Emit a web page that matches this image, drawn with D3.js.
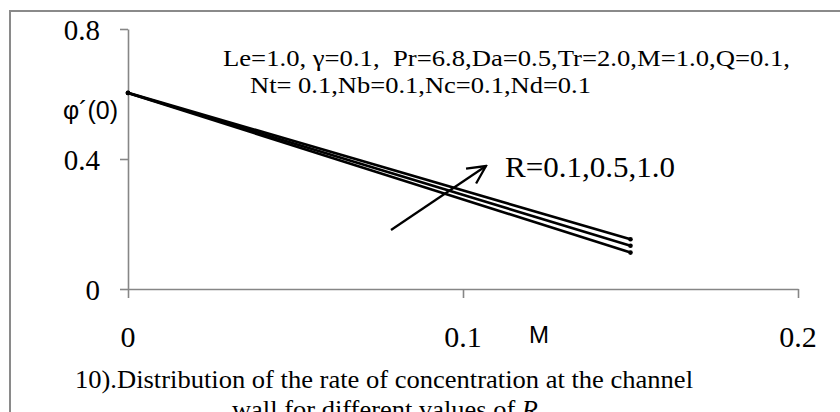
<!DOCTYPE html>
<html>
<head>
<meta charset="utf-8">
<script src="https://cdn.jsdelivr.net/npm/d3@7"></script>
<style>
  html, body { margin: 0; padding: 0; background: #fff; }
  svg { display: block; }
  .serif { font-family: "Liberation Serif", "Times New Roman", serif; fill: #000; }
  .sans { font-family: "Liberation Sans", Arial, sans-serif; fill: #000; }
</style>
</head>
<body>
<svg id="chart" width="840" height="412"></svg>
<script>
// Magnetic parameter M along the x axis
const mValues = [0, 0.15];

// Wall concentration gradient φ´(0) for each radiation parameter R
const seriesR01 = [0.603, 0.112];
const seriesR05 = [0.603, 0.133];
const seriesR10 = [0.604, 0.153];
const seriesNames = ["R=0.1", "R=0.5", "R=1.0"];

const xTicks = [0, 0.1, 0.2];
const xTickLabels = ["0", "0.1", "0.2"];
const yTicks = [0, 0.4, 0.8];
const yTickLabels = ["0", "0.4", "0.8"];

const svg = d3.select("#chart");

// outer frame of the figure
svg.append("rect")
  .attr("x", 10).attr("y", 11)
  .attr("width", 900).attr("height", 500)
  .attr("fill", "none")
  .attr("stroke", "#8a8a8a")
  .attr("stroke-width", 2);

const x = d3.scaleLinear().domain([0, 0.2]).range([128, 798]);
const y = d3.scaleLinear().domain([0, 0.8]).range([289, 29]);

const axisColor = "#868686";

// y axis
const gy = svg.append("g")
  .attr("transform", `translate(${x(0)},0)`)
  .call(d3.axisLeft(y).tickValues(yTicks).tickSize(8).tickSizeOuter(0).tickFormat(""));
gy.select(".domain").attr("stroke", axisColor).attr("stroke-width", 1.6);
gy.selectAll(".tick line").attr("stroke", axisColor).attr("stroke-width", 1.6);

// x axis
const gx = svg.append("g")
  .attr("transform", `translate(0,${y(0)})`)
  .call(d3.axisBottom(x).tickValues(xTicks).tickSize(9).tickSizeOuter(0).tickFormat(""));
gx.select(".domain").attr("stroke", axisColor).attr("stroke-width", 1.6);
gx.selectAll(".tick line").attr("stroke", axisColor).attr("stroke-width", 1.6);

// tick labels
svg.append("g").selectAll("text")
  .data(yTicks)
  .join("text")
  .attr("class", "serif")
  .attr("x", 100)
  .attr("y", d => y(d) + 11)
  .attr("text-anchor", "end")
  .attr("font-size", 29)
  .text((d, i) => yTickLabels[i]);

svg.append("g").selectAll("text")
  .data(xTicks)
  .join("text")
  .attr("class", "serif")
  .attr("x", d => x(d))
  .attr("y", 347)
  .attr("text-anchor", "middle")
  .attr("font-size", 30)
  .text((d, i) => xTickLabels[i]);

// axis titles
svg.append("text")
  .attr("class", "sans")
  .attr("x", 118).attr("y", 119)
  .attr("text-anchor", "end")
  .attr("font-size", 25)
  .text("φ´(0)");

svg.append("text")
  .attr("class", "sans")
  .attr("x", 539).attr("y", 343)
  .attr("text-anchor", "middle")
  .attr("font-size", 24)
  .text("M");

// series lines
const series = [seriesR01, seriesR05, seriesR10];
const line = d3.line()
  .x((d, i) => x(mValues[i]))
  .y(d => y(d));

const gLines = svg.append("g");
series.forEach((vals, k) => {
  gLines.append("path")
    .datum(vals)
    .attr("fill", "none")
    .attr("stroke", "#000")
    .attr("stroke-width", 2.6)
    .attr("d", line)
    .append("title").text(seriesNames[k]);
  gLines.selectAll(null)
    .data(vals)
    .join("circle")
    .attr("cx", (d, i) => x(mValues[i]))
    .attr("cy", d => y(d))
    .attr("r", 2.3)
    .attr("fill", "#000");
});

// parameter annotation
svg.append("text")
  .attr("class", "serif")
  .attr("x", 223).attr("y", 66)
  .attr("font-size", 24)
  .attr("textLength", 567)
  .attr("lengthAdjust", "spacingAndGlyphs")
  .style("white-space", "pre")
  .text("Le=1.0, γ=0.1,  Pr=6.8,Da=0.5,Tr=2.0,M=1.0,Q=0.1,");

svg.append("text")
  .attr("class", "serif")
  .attr("x", 250).attr("y", 93)
  .attr("font-size", 24)
  .attr("textLength", 341)
  .attr("lengthAdjust", "spacingAndGlyphs")
  .text("Nt= 0.1,Nb=0.1,Nc=0.1,Nd=0.1");

// arrow showing the direction of increasing R
const defs = svg.append("defs");
defs.append("marker")
  .attr("id", "arrowhead")
  .attr("viewBox", "0 0 22 22")
  .attr("refX", 20).attr("refY", 11)
  .attr("markerWidth", 22).attr("markerHeight", 22)
  .attr("markerUnits", "userSpaceOnUse")
  .attr("orient", "auto")
  .append("path")
  .attr("d", "M2,2 L20,11 L2,20")
  .attr("fill", "none")
  .attr("stroke", "#000")
  .attr("stroke-width", 2.3);

svg.append("line")
  .attr("x1", 391).attr("y1", 230)
  .attr("x2", 486).attr("y2", 166)
  .attr("stroke", "#000")
  .attr("stroke-width", 2.2)
  .attr("marker-end", "url(#arrowhead)");

svg.append("text")
  .attr("class", "serif")
  .attr("x", 505).attr("y", 177)
  .attr("font-size", 29)
  .attr("textLength", 170)
  .attr("lengthAdjust", "spacingAndGlyphs")
  .text("R=0.1,0.5,1.0");

// figure caption
svg.append("text")
  .attr("class", "serif")
  .attr("x", 75).attr("y", 388)
  .attr("font-size", 25)
  .attr("textLength", 618)
  .attr("lengthAdjust", "spacingAndGlyphs")
  .text("10).Distribution of the rate of concentration at the channel");

const cap2 = svg.append("text")
  .attr("class", "serif")
  .attr("x", 232).attr("y", 418)
  .attr("font-size", 25)
  .attr("textLength", 306)
  .attr("lengthAdjust", "spacingAndGlyphs");
cap2.append("tspan").text("wall for different values of ");
cap2.append("tspan").attr("font-style", "italic").text("R");
</script>
</body>
</html>
